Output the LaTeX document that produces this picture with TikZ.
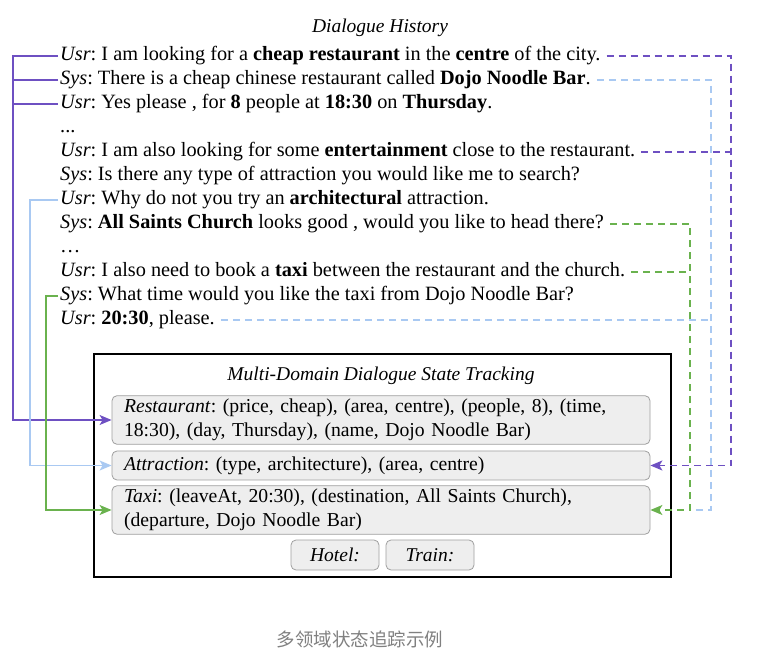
\documentclass[tikz,border=0pt]{standalone}
\usepackage{fontspec}
\setmainfont{Liberation Serif}
\newfontfamily\cjkfont{Noto Sans CJK SC}
\usepackage{xcolor}
\usetikzlibrary{arrows.meta}
\frenchspacing

\definecolor{restpurple}{HTML}{6E50C2}
\definecolor{attrblue}{HTML}{A9C9F2}
\definecolor{taxigreen}{HTML}{6AB24E}

\begin{document}
\begin{tikzpicture}[x=1pt, y=-1pt,
    every node/.style={font=\fontsize{19.7}{24}\selectfont},
    heading/.style={font=\fontsize{19.5}{24}\selectfont\itshape},
    hist/.style={anchor=west, inner sep=2pt, text height=14pt, text depth=5pt,
      font=\fontsize{20.3}{24}\selectfont},
    slot/.style={draw=gray!75, fill=gray!13, rounded corners=5pt, line width=0.8pt,
      minimum width=538pt, text width=514pt, inner xsep=12pt, align=left},
    minislot/.style={draw=gray!75, fill=gray!13, rounded corners=5pt, line width=0.8pt,
      minimum width=88pt, minimum height=30pt, font=\fontsize{19.5}{24}\selectfont\itshape},
    solidlink/.style={line width=1.4pt},
    dashlink/.style={line width=1.4pt, dash pattern=on 7pt off 5pt, shorten <=4pt},
    tip/.style={-{Stealth[length=12pt,width=10pt,inset=3pt]}}]
    \useasboundingbox (0,0) rectangle (780,652);

    % dialogue history
    \node[heading] (histtitle) at (380,28) {Dialogue History};
    \node[hist] (h1) at (58,56) {\textit{Usr}: I am looking for a \textbf{cheap restaurant} in the \textbf{centre} of the city.};
    \node[hist] (h2) at (58,80) {\textit{Sys}: There is a cheap chinese restaurant called \textbf{Dojo Noodle Bar}.};
    \node[hist] (h3) at (58,104) {\textit{Usr}: Yes please , for \textbf{8} people at \textbf{18:30} on \textbf{Thursday}.};
    \node[hist] (h4) at (58,128) {...};
    \node[hist] (h5) at (58,152) {\textit{Usr}: I am also looking for some \textbf{entertainment} close to the restaurant.};
    \node[hist] (h6) at (58,176) {\textit{Sys}: Is there any type of attraction you would like me to search?};
    \node[hist] (h7) at (58,200) {\textit{Usr}: Why do not you try an \textbf{architectural} attraction.};
    \node[hist] (h8) at (58,224) {\textit{Sys}: \textbf{All Saints Church} looks good , would you like to head there?};
    \node[hist] (h9) at (58,248) {\ldots};
    \node[hist] (h10) at (58,272) {\textit{Usr}: I also need to book a \textbf{taxi} between the restaurant and the church.};
    \node[hist] (h11) at (58,296) {\textit{Sys}: What time would you like the taxi from Dojo Noodle Bar?};
    \node[hist] (h12) at (58,320) {\textit{Usr}: \textbf{20:30}, please.};

    % state tracking
    \node[draw, line width=1.6pt, inner sep=0pt, minimum width=577pt, minimum height=223pt] (dst) at (382.5,465.5) {};
    \node[heading] (dsttitle) at (381,376) {Multi-Domain Dialogue State Tracking};
    \node[slot, minimum height=48pt] (rest) at (381,420) {\textit{Restaurant}: (price, cheap), (area, centre), (people, 8), (time,\\18:30), (day, Thursday), (name, Dojo Noodle Bar)};
    \node[slot, minimum height=29pt] (attr) at (381,465.5) {\textit{Attraction}: (type, architecture), (area, centre)};
    \node[slot, minimum height=48pt] (taxi) at (381,510) {\textit{Taxi}: (leaveAt, 20:30), (destination, All Saints Church),\\(departure, Dojo Noodle Bar)};
    \node[minislot] (hotel) at (335,555) {Hotel:};
    \node[minislot] (train) at (430,555) {Train:};

    \node[font=\cjkfont\fontsize{18.5}{22}\selectfont, text=gray] (caption) at (360,639) {多领域状态追踪示例};

    % rails
    \coordinate (lrest) at (13,0);
    \coordinate (lattr) at (30,0);
    \coordinate (ltaxi) at (46,0);
    \coordinate (rtaxig) at (690,0);
    \coordinate (rtaxib) at (711,0);
    \coordinate (rattr) at (731,0);

    % solid links on the left
    \draw[solidlink, restpurple, tip] (h1.west) -- (h1.west -| lrest) |- (rest.west);
    \draw[solidlink, restpurple] (h2.west) -- (h2.west -| lrest);
    \draw[solidlink, restpurple] (h3.west) -- (h3.west -| lrest);
    \draw[solidlink, attrblue, tip] (h7.west) -- (h7.west -| lattr) |- (attr.west);
    \draw[solidlink, taxigreen, tip] (h11.west) -- (h11.west -| ltaxi) |- (taxi.west);

    % dashed links on the right
    \draw[dashlink, attrblue, line width=1.2pt] (h2.east) -- (h2.east -| rtaxib) |- (taxi.east -| rtaxig);
    \draw[dashlink, attrblue, line width=1.2pt] (h12.east) -- (h12.east -| rtaxib);
    \draw[dashlink, taxigreen, tip] (h8.east) -- (h8.east -| rtaxig) |- (taxi.east);
    \draw[dashlink, taxigreen] (h10.east) -- (h10.east -| rtaxig);
    \draw[dashlink, restpurple, line width=1.6pt, tip] (h1.east) -- (h1.east -| rattr) |- (attr.east);
    \draw[dashlink, restpurple, line width=1.6pt] (h5.east) -- (h5.east -| rattr);
\end{tikzpicture}
\end{document}
